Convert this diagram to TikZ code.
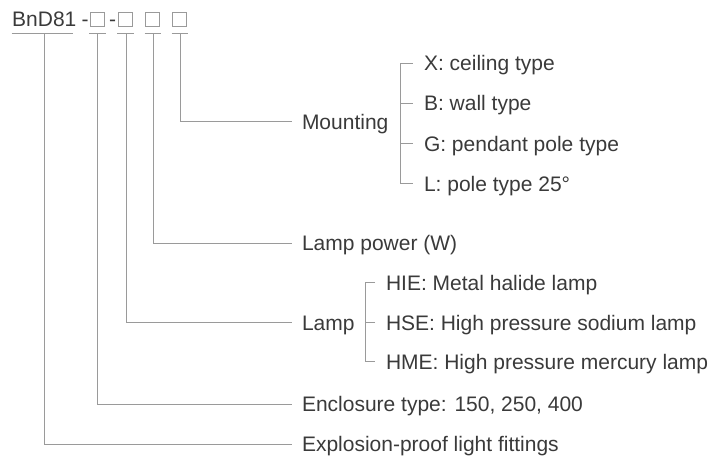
\documentclass[tikz,border=0pt]{standalone}
\usepackage{fontspec}
\setmainfont{Liberation Sans}
\definecolor{txt}{HTML}{3A3A3A}
\definecolor{lnc}{HTML}{9A9A9A}
\begin{document}
\begin{tikzpicture}[x=1pt,y=-1pt,
  lbl/.style={anchor=west,inner sep=0pt,outer sep=0pt,text height=15pt,text depth=0pt,
    font=\fontsize{21}{25}\selectfont,text=txt},
  hdr/.style={anchor=base,inner sep=0pt,font=\fontsize{21}{25}\selectfont,text=txt},
  sq/.style={draw=lnc,line width=1pt,minimum size=13.5pt,inner sep=0pt},
  ln/.style={draw=lnc,line width=1pt}]
\useasboundingbox (0,0) rectangle (712,458);
% header
\node[hdr,anchor=base west] (bnd) at (12,26) {BnD81};
\node[hdr] (d1) at (85,26) {-};
\node[hdr] (d2) at (112.5,26) {-};
\node[sq] (b1) at (97.5,19.7) {};
\node[sq] (b2) at (125.7,19.7) {};
\node[sq] (b3) at (152.7,19.7) {};
\node[sq] (b4) at (179.7,19.7) {};
% underlines
\coordinate (u0l) at (11.7,33.3); \coordinate (u0r) at (73.3,33.3); \coordinate (u0) at (44.5,33.3);
\coordinate (u1l) at (89.3,33.3); \coordinate (u1r) at (106,33.3); \coordinate (u1) at (97.5,33.3);
\coordinate (u2l) at (117.3,33.3); \coordinate (u2r) at (134,33.3); \coordinate (u2) at (126.2,33.3);
\coordinate (u3l) at (144.7,33.3); \coordinate (u3r) at (161,33.3); \coordinate (u3) at (153,33.3);
\coordinate (u4l) at (171.7,33.3); \coordinate (u4r) at (188.3,33.3); \coordinate (u4) at (180,33.3);
\foreach \i in {0,...,4} {\draw[ln] (u\i l) -- (u\i r);}
% labels
\node[lbl] (mount) at (302,121.7) {Mounting};
\node[lbl] (power) at (302,243) {Lamp power (W)};
\node[lbl] (lamp) at (302,322.5) {Lamp};
\node[lbl] (encl) at (302,404) {Enclosure type: 150, 250, 400};
\node[lbl] (expl) at (302,444) {Explosion-proof light fittings};
\node[lbl] (mX) at (424,63) {X: ceiling type};
\node[lbl] (mB) at (424,103) {B: wall type};
\node[lbl] (mG) at (424,143.5) {G: pendant pole type};
\node[lbl] (mL) at (424,183.5) {L: pole type 25°};
\node[lbl] (lHIE) at (386,282.5) {HIE: Metal halide lamp};
\node[lbl] (lHSE) at (386,322.5) {HSE: High pressure sodium lamp};
\node[lbl] (lHME) at (386,361.5) {HME: High pressure mercury lamp};
% leads
\draw[ln] (u4) |- ([xshift=-10pt]mount.west);
\draw[ln] (u3) |- ([xshift=-10pt]power.west);
\draw[ln] (u2) |- ([xshift=-10pt]lamp.west);
\draw[ln] (u1) |- ([xshift=-10pt]encl.west);
\draw[ln] (u0) |- ([xshift=-10pt]expl.west);
% mounting bracket
\draw[ln] ([xshift=-11.5pt]mX.west) -- ([xshift=-23.3pt]mX.west) -- ([xshift=-23.3pt]mL.west) -- ([xshift=-11.5pt]mL.west);
\draw[ln] ([xshift=-11.5pt]mB.west) -- ([xshift=-23.3pt]mB.west);
\draw[ln] ([xshift=-11.5pt]mG.west) -- ([xshift=-23.3pt]mG.west);
% lamp bracket
\draw[ln] ([xshift=-11pt]lHIE.west) -- ([xshift=-20.5pt]lHIE.west) -- ([xshift=-20.5pt]lHME.west) -- ([xshift=-11pt]lHME.west);
\draw[ln] ([xshift=-11pt]lHSE.west) -- ([xshift=-20.5pt]lHSE.west);
\end{tikzpicture}
\end{document}
